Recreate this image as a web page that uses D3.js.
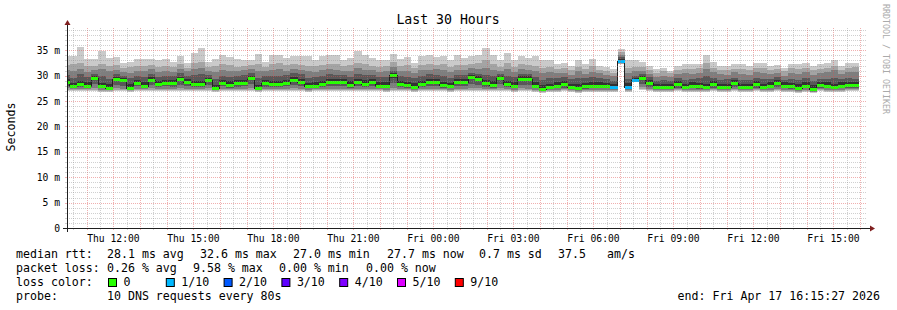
<!DOCTYPE html>
<html>
<head>
<meta charset="utf-8">
<script src="https://cdn.jsdelivr.net/npm/d3@7"></script>
<style>
  body { margin: 0; background: #fff; }
  svg text { font-family: "DejaVu Sans Mono", monospace; fill: #000; }
</style>
</head>
<body>
<svg id="chart" width="897" height="310"></svg>
<script>
// time window of the graph and the 16 minute consolidation bins
var startTime = new Date(Date.UTC(2026, 3, 16, 10, 15, 27));
var endTime = new Date(Date.UTC(2026, 3, 17, 16, 15, 27));
var firstBin = new Date(Date.UTC(2026, 3, 16, 10, 6, 7));
var binSeconds = 960;

// median rtt per bin (ms)
var median = [
  28.8, 27.9, 28.4, 28.0, 29.6, 27.9, 27.5, 29.4, 29.2, 27.5, 28.6, 28.0, 29.2, 28.4,
  28.6, 28.6, 29.3, 28.8, 28.3, 28.4, 29.2, 27.5, 28.5, 28.2, 28.5, 28.6, 29.6, 27.5,
  28.6, 28.3, 28.3, 28.6, 29.2, 28.8, 27.9, 28.0, 28.3, 28.8, 28.8, 28.8, 28.2, 28.8,
  28.4, 28.8, 28.0, 28.0, 30.1, 28.3, 28.1, 27.8, 28.3, 28.8, 28.8, 28.1, 27.9, 28.7,
  28.7, 29.7, 29.4, 28.5, 28.2, 29.5, 28.3, 28.0, 29.4, 29.4, 28.0, 27.3, 27.7, 28.0,
  28.3, 27.7, 27.6, 27.9, 28.0, 28.0, 28.0, 27.7, 32.9, 27.7, 29.2, 29.6, 28.6, 27.7,
  27.7, 27.7, 28.3, 27.7, 28.0, 27.9, 27.7, 28.3, 27.7, 27.7, 28.5, 27.7, 27.7, 28.4,
  27.7, 28.0, 28.5, 28.0, 27.9, 27.6, 28.0, 27.3, 28.1, 28.0, 27.7, 28.0, 28.1, 28.1
];
// lost pings per bin (out of 10)
var loss = [
  0, 0, 0, 0, 0, 0, 0, 0, 0, 0, 0, 0, 0, 0,
  0, 0, 0, 0, 0, 0, 0, 0, 0, 0, 0, 0, 0, 0,
  0, 0, 0, 0, 0, 0, 0, 0, 0, 0, 0, 0, 0, 0,
  0, 0, 0, 0, 0, 0, 0, 0, 0, 0, 0, 0, 0, 0,
  0, 0, 0, 0, 0, 0, 0, 0, 0, 0, 0, 0, 0, 0,
  0, 0, 0, 0, 0, 0, 0, 1, 1, 1, 1, 0, 0, 0,
  0, 0, 0, 0, 0, 0, 0, 0, 0, 0, 0, 0, 0, 0,
  0, 0, 0, 0, 0, 0, 0, 0, 0, 0, 0, 0, 0, 0
];
// sorted pings per bin (ms), slowest first
var ping10 = [
  33.8, 33.8, 35.6, 33.3, 33.3, 34.8, 33.5, 33.7, 32.5, 32.8, 33.3, 33.3, 33.2, 33.1,
  33.2, 32.8, 33.8, 32.6, 34.5, 35.5, 32.8, 33.3, 34.1, 33.6, 33.2, 33.0, 33.0, 34.3,
  32.8, 34.1, 34.1, 33.5, 33.9, 33.8, 33.9, 33.1, 33.8, 34.1, 34.0, 33.1, 33.5, 34.8,
  34.0, 33.5, 33.1, 33.1, 34.3, 33.3, 33.7, 32.6, 33.8, 34.1, 33.7, 33.9, 33.1, 34.0,
  33.5, 33.8, 34.1, 35.4, 34.1, 33.0, 34.5, 33.1, 33.8, 33.5, 33.8, 33.0, 33.1, 32.3,
  32.6, 32.0, 33.0, 32.4, 33.2, 32.0, 31.7, 31.4, 35.3, 33.1, 33.1, 32.7, 32.0, 31.3,
  31.6, 31.0, 32.0, 32.3, 32.3, 32.3, 34.1, 32.7, 32.0, 32.0, 32.3, 32.3, 32.0, 32.6,
  32.6, 32.0, 32.2, 31.6, 32.3, 32.3, 32.6, 32.0, 32.3, 32.6, 33.1, 32.0, 32.6, 32.6
];
var ping9 = [
  32.1, 32.3, 32.6, 31.9, 32.0, 32.4, 32.0, 32.2, 31.6, 31.8, 32.0, 31.9, 32.2, 31.7,
  31.9, 31.7, 32.3, 31.6, 32.5, 32.8, 31.8, 32.0, 32.4, 32.1, 31.8, 31.9, 32.2, 32.3,
  31.7, 32.4, 32.5, 32.1, 32.3, 32.2, 32.0, 31.9, 32.2, 32.4, 32.3, 31.9, 32.1, 32.6,
  32.3, 32.0, 31.8, 31.9, 32.8, 31.9, 32.2, 31.5, 32.1, 32.4, 32.2, 32.3, 31.8, 32.2,
  32.1, 32.4, 32.5, 33.0, 32.3, 31.8, 32.6, 31.7, 32.3, 32.1, 32.0, 31.6, 31.7, 31.3,
  31.5, 31.1, 31.8, 31.3, 31.9, 31.2, 31.0, 30.6, 34.6, 31.6, 31.8, 31.7, 31.2, 30.6,
  30.9, 30.5, 31.2, 31.4, 31.3, 31.5, 32.6, 31.6, 31.2, 31.1, 31.4, 31.3, 31.1, 31.5,
  31.6, 31.2, 31.4, 30.9, 31.5, 31.3, 31.6, 31.1, 31.4, 31.6, 32.0, 31.2, 31.6, 31.7
];
var ping8 = [
  31.2, 31.0, 31.4, 30.8, 31.1, 31.3, 30.9, 31.2, 30.8, 30.6, 31.0, 30.9, 31.3, 30.8,
  31.0, 30.8, 31.4, 30.9, 31.3, 31.5, 31.0, 30.8, 31.2, 31.0, 30.9, 31.1, 31.3, 30.9,
  30.9, 31.2, 31.3, 31.0, 31.4, 31.2, 30.9, 30.8, 31.1, 31.3, 31.2, 30.9, 31.0, 31.6,
  31.2, 31.1, 30.8, 30.9, 31.8, 30.9, 31.0, 30.6, 31.1, 31.2, 31.3, 31.1, 30.8, 31.2,
  31.1, 31.5, 31.4, 31.6, 31.2, 31.0, 31.4, 30.8, 31.3, 31.2, 30.9, 30.6, 30.8, 30.5,
  30.6, 30.2, 30.9, 30.4, 30.8, 30.5, 30.2, 29.9, 34.0, 30.6, 30.9, 31.0, 30.4, 29.8,
  30.0, 29.8, 30.4, 30.6, 30.3, 30.6, 31.4, 30.8, 30.3, 30.2, 30.7, 30.4, 30.2, 30.7,
  30.6, 30.4, 30.6, 30.0, 30.5, 30.4, 30.8, 30.2, 30.6, 30.7, 31.1, 30.3, 30.8, 30.8
];
var ping7 = [
  30.2, 29.6, 30.3, 29.7, 30.4, 29.9, 29.4, 30.3, 30.0, 29.5, 30.0, 29.7, 30.4, 29.8,
  30.0, 29.9, 30.5, 30.0, 30.1, 30.3, 30.2, 29.4, 30.0, 29.8, 30.0, 30.1, 30.6, 29.5,
  30.0, 30.0, 29.9, 30.1, 30.5, 30.3, 29.6, 29.7, 30.0, 30.3, 30.2, 30.1, 29.8, 30.4,
  30.1, 30.2, 29.7, 29.8, 31.0, 29.9, 29.8, 29.5, 30.0, 30.3, 30.2, 29.9, 29.6, 30.1,
  30.2, 30.6, 30.4, 30.2, 29.9, 30.4, 30.0, 29.7, 30.4, 30.3, 29.8, 29.2, 29.5, 29.6,
  29.8, 29.3, 29.5, 29.5, 29.8, 29.6, 29.4, 29.0, 33.6, 29.4, 30.0, 30.4, 29.7, 29.0,
  29.1, 29.0, 29.5, 29.2, 29.4, 29.5, 29.9, 29.6, 29.2, 29.3, 29.6, 29.2, 29.1, 29.6,
  29.3, 29.4, 29.7, 29.2, 29.3, 29.1, 29.5, 28.9, 29.4, 29.3, 29.5, 29.4, 29.5, 29.4
];
var ping6 = [
  29.3, 28.6, 29.0, 28.7, 30.0, 28.6, 28.3, 29.8, 29.6, 28.3, 29.2, 28.7, 29.7, 29.0,
  29.2, 29.1, 29.8, 29.3, 29.0, 29.0, 29.6, 28.2, 29.1, 28.9, 29.1, 29.2, 30.0, 28.2,
  29.2, 29.0, 29.0, 29.2, 29.7, 29.4, 28.6, 28.7, 29.0, 29.4, 29.3, 29.4, 28.9, 29.4,
  29.1, 29.4, 28.7, 28.7, 30.5, 29.0, 28.8, 28.5, 29.0, 29.4, 29.4, 28.8, 28.6, 29.3,
  29.3, 30.1, 29.9, 29.2, 28.9, 29.9, 29.0, 28.7, 29.9, 29.9, 28.7, 28.1, 28.4, 28.7,
  29.0, 28.4, 28.3, 28.6, 28.7, 28.7, 28.6, 28.4, 33.3, 28.5, 29.6, 30.0, 29.2, 28.4,
  28.4, 28.4, 29.0, 28.4, 28.7, 28.6, 28.4, 29.0, 28.4, 28.4, 29.1, 28.4, 28.4, 29.0,
  28.4, 28.7, 29.1, 28.7, 28.6, 28.3, 28.7, 28.1, 28.8, 28.7, 28.4, 28.7, 28.8, 28.8
];
var ping5 = [
  28.5, 27.7, 28.1, 27.8, 29.1, 27.7, 27.4, 29.0, 28.8, 27.4, 28.3, 27.8, 28.8, 28.1,
  28.3, 28.3, 29.0, 28.4, 28.0, 28.1, 28.8, 27.4, 28.2, 27.9, 28.2, 28.3, 29.1, 27.4,
  28.3, 28.0, 28.0, 28.3, 28.8, 28.4, 27.7, 27.8, 28.0, 28.5, 28.5, 28.5, 27.9, 28.5,
  28.1, 28.5, 27.8, 27.8, 29.6, 28.0, 27.9, 27.6, 28.0, 28.5, 28.5, 27.9, 27.7, 28.4,
  28.4, 29.3, 29.0, 28.2, 27.9, 29.1, 28.0, 27.8, 29.0, 29.0, 27.8, 27.1, 27.5, 27.8,
  28.0, 27.5, 27.4, 27.7, 27.8, 27.8, 27.8, 27.5, 32.7, 27.5, 29.0, 29.2, 28.3, 27.5,
  27.5, 27.5, 28.0, 27.5, 27.8, 27.7, 27.5, 28.0, 27.5, 27.5, 28.2, 27.5, 27.5, 28.1,
  27.5, 27.8, 28.2, 27.8, 27.7, 27.4, 27.8, 27.1, 27.9, 27.8, 27.5, 27.8, 27.9, 27.9
];
var ping4 = [
  28.0, 27.5, 27.8, 27.6, 28.4, 27.5, 27.3, 28.2, 28.0, 27.3, 27.9, 27.6, 28.1, 27.8,
  27.9, 27.8, 28.2, 27.9, 27.7, 27.8, 28.1, 27.3, 27.9, 27.6, 27.8, 27.9, 28.3, 27.3,
  27.8, 27.7, 27.7, 27.9, 28.1, 27.9, 27.5, 27.6, 27.7, 28.0, 27.9, 28.0, 27.6, 28.0,
  27.7, 28.0, 27.6, 27.5, 28.6, 27.7, 27.6, 27.4, 27.7, 28.0, 28.0, 27.6, 27.5, 27.9,
  27.9, 28.4, 28.2, 27.8, 27.6, 28.3, 27.7, 27.5, 28.2, 28.1, 27.5, 27.0, 27.3, 27.5,
  27.6, 27.3, 27.2, 27.4, 27.5, 27.5, 27.5, 27.3, 32.6, 27.3, 29.0, 28.4, 27.8, 27.3,
  27.3, 27.3, 27.6, 27.3, 27.5, 27.4, 27.3, 27.6, 27.3, 27.3, 27.7, 27.3, 27.3, 27.6,
  27.3, 27.5, 27.7, 27.5, 27.4, 27.2, 27.5, 26.9, 27.6, 27.5, 27.3, 27.5, 27.6, 27.6
];
var ping3 = [
  27.5, 27.3, 27.4, 27.3, 27.6, 27.2, 27.1, 27.5, 27.4, 27.1, 27.4, 27.3, 27.5, 27.3,
  27.4, 27.3, 27.5, 27.4, 27.3, 27.3, 27.5, 27.1, 27.4, 27.3, 27.4, 27.3, 27.6, 27.1,
  27.4, 27.3, 27.3, 27.4, 27.5, 27.4, 27.2, 27.3, 27.3, 27.4, 27.4, 27.4, 27.3, 27.4,
  27.3, 27.4, 27.3, 27.2, 27.6, 27.3, 27.3, 27.2, 27.3, 27.4, 27.4, 27.3, 27.2, 27.4,
  27.4, 27.6, 27.5, 27.3, 27.3, 27.5, 27.3, 27.2, 27.5, 27.4, 27.2, 26.9, 27.1, 27.2,
  27.3, 27.1, 27.0, 27.2, 27.2, 27.2, 27.2, 27.1, 32.5, 27.1, 29.0, 27.8, 27.4, 27.1,
  27.1, 27.1, 27.3, 27.1, 27.2, 27.2, 27.1, 27.3, 27.1, 27.1, 27.3, 27.1, 27.1, 27.3,
  27.1, 27.2, 27.3, 27.2, 27.2, 27.0, 27.2, 26.8, 27.3, 27.2, 27.1, 27.2, 27.3, 27.3
];
var ping2 = [
  27.2, 27.1, 27.1, 27.1, 27.2, 27.0, 26.9, 27.2, 27.1, 26.9, 27.1, 27.1, 27.2, 27.1,
  27.1, 27.1, 27.2, 27.1, 27.1, 27.1, 27.2, 26.9, 27.1, 27.1, 27.1, 27.1, 27.2, 26.9,
  27.1, 27.1, 27.1, 27.1, 27.2, 27.1, 27.0, 27.1, 27.1, 27.1, 27.1, 27.1, 27.1, 27.1,
  27.1, 27.1, 27.1, 27.0, 27.2, 27.1, 27.1, 27.0, 27.1, 27.1, 27.1, 27.1, 27.0, 27.1,
  27.1, 27.2, 27.2, 27.1, 27.1, 27.2, 27.1, 27.0, 27.2, 27.1, 27.0, 26.8, 26.9, 27.0,
  27.1, 26.9, 26.8, 27.0, 27.0, 27.0, 27.0, 26.9, 32.4, 26.9, 29.0, 27.4, 27.1, 26.9,
  26.9, 26.9, 27.1, 26.9, 27.0, 27.0, 26.9, 27.1, 26.9, 26.9, 27.1, 26.9, 26.9, 27.1,
  26.9, 27.0, 27.1, 27.0, 27.0, 26.8, 27.0, 26.7, 27.1, 27.0, 26.9, 27.0, 27.1, 27.1
];
var ping1 = [
  27.0, 26.9, 26.9, 26.9, 27.0, 26.8, 26.7, 27.0, 26.9, 26.7, 26.9, 26.9, 27.0, 26.9,
  26.9, 26.9, 27.0, 26.9, 26.9, 26.9, 27.0, 26.7, 26.9, 26.9, 26.9, 26.9, 27.0, 26.7,
  26.9, 26.9, 26.9, 26.9, 27.0, 26.9, 26.8, 26.9, 26.9, 26.9, 26.9, 26.9, 26.9, 26.9,
  26.9, 26.9, 26.9, 26.8, 27.0, 26.9, 26.9, 26.8, 26.9, 26.9, 26.9, 26.9, 26.8, 26.9,
  26.9, 27.0, 27.0, 26.9, 26.9, 27.0, 26.9, 26.8, 27.0, 26.9, 26.8, 26.6, 26.7, 26.8,
  26.9, 26.7, 26.6, 26.8, 26.8, 26.8, 26.8, 26.7, 32.3, 26.7, 29.0, 27.2, 26.9, 26.7,
  26.7, 26.7, 26.9, 26.7, 26.8, 26.8, 26.7, 26.9, 26.7, 26.7, 26.9, 26.7, 26.7, 26.9,
  26.7, 26.8, 26.9, 26.8, 26.8, 26.6, 26.8, 26.5, 26.9, 26.8, 26.7, 26.8, 26.9, 26.9
];

var yTicks = [0, 5, 10, 15, 20, 25, 30, 35];
var lossLabels = ["0", "1/10", "2/10", "3/10", "4/10", "5/10", "9/10"];
var lossColors = ["#26ff00", "#00b8ff", "#0059ff", "#5e00ff", "#7e00ff", "#dd00ff", "#ff0000"];
var lossSteps = [0, 1, 2, 3, 4, 5, 9];
var smokeColors = ["#cacaca", "#a4a4a4", "#7e7e7e", "#585858", "#323232"];

var rttStats = ["median rtt:", "28.1 ms avg", "32.6 ms max", "27.0 ms min", "27.7 ms now", "0.7 ms sd", "37.5", "am/s"];
var lossStats = ["packet loss:", "0.26 % avg", "9.58 % max", "0.00 % min", "0.00 % now"];
var probeText = ["probe:", "10 DNS requests every 80s"];
var endText = "end: Fri Apr 17 16:15:27 2026";

var svg = d3.select("#chart");
var plotL = 67, plotR = 867, plotB = 228, plotT = 28;

var x = d3.scaleUtc().domain([startTime, endTime]).range([plotL, plotR]);
var y = d3.scaleLinear().domain([0, 39.4]).range([plotB, plotT]);

var pings = [ping1, ping2, ping3, ping4, ping5, ping6, ping7, ping8, ping9, ping10];
var rows = median.map(function (m, i) {
  return {
    t: new Date(firstBin.getTime() + i * binSeconds * 1000),
    med: m,
    loss: loss[i],
    p: pings.map(function (a) { return a[i]; })
  };
});
var lastRow = rows[rows.length - 1];
var stepRows = rows.concat([{
  t: new Date(lastRow.t.getTime() + binSeconds * 1000),
  med: lastRow.med, loss: lastRow.loss, p: lastRow.p
}]);

svg.append("clipPath").attr("id", "plotclip")
  .append("rect").attr("x", plotL).attr("y", plotT)
  .attr("width", plotR - plotL).attr("height", plotB - plotT);

var plot = svg.append("g").attr("clip-path", "url(#plotclip)");

// smoke: pairs (1,10) (2,9) ... (5,6), darker towards the middle
smokeColors.forEach(function (c, k) {
  var area = d3.area()
    .curve(d3.curveStepAfter)
    .x(function (d) { return x(d.t); })
    .y0(function (d) { return y(d.p[k]); })
    .y1(function (d) { return y(d.p[9 - k]); });
  plot.append("path").datum(stepRows)
    .attr("d", area)
    .attr("fill", c)
    .attr("shape-rendering", "crispEdges");
});

// median step line
plot.append("path").datum(stepRows)
  .attr("d", d3.line().curve(d3.curveStepAfter)
    .x(function (d) { return x(d.t); })
    .y(function (d) { return Math.round(y(d.med)) + 0.5; }))
  .attr("fill", "none")
  .attr("stroke", "#202020")
  .attr("stroke-width", 1)
  .attr("shape-rendering", "crispEdges");

function lossColor(l) {
  var idx = 0;
  lossSteps.forEach(function (s, i) { if (l >= s) idx = i; });
  return lossColors[idx];
}

plot.selectAll("rect.med").data(rows).enter().append("rect")
  .attr("class", "med")
  .attr("x", function (d) { return x(d.t); })
  .attr("width", x(new Date(firstBin.getTime() + binSeconds * 1000)) - x(firstBin))
  .attr("y", function (d) { return Math.round(y(d.med)) - 1; })
  .attr("height", 3)
  .attr("fill", function (d) { return lossColor(d.loss); })
  .attr("shape-rendering", "crispEdges");

// grid (drawn over the graph like rrdtool)
var grid = svg.append("g").attr("shape-rendering", "crispEdges");
var minorCol = "rgba(143,143,143,0.42)", majorCol = "rgba(222,79,79,0.45)";

d3.utcMinute.every(30).range(startTime, endTime).forEach(function (t) {
  var major = t.getUTCMinutes() === 0;
  var px = Math.round(x(t)) + 0.5;
  grid.append("line").attr("x1", px).attr("x2", px).attr("y1", plotT).attr("y2", plotB)
    .attr("stroke", major ? majorCol : minorCol).attr("stroke-dasharray", "1,1");
  grid.append("line").attr("x1", px).attr("x2", px).attr("y1", plotB).attr("y2", plotB + 2)
    .attr("stroke", major ? majorCol : minorCol);
});

d3.range(1, 40).forEach(function (v) {
  var major = v % 5 === 0;
  var py = Math.round(y(v)) + 0.5;
  grid.append("line").attr("x1", plotL).attr("x2", plotR).attr("y1", py).attr("y2", py)
    .attr("stroke", major ? majorCol : minorCol).attr("stroke-dasharray", "1,1");
  grid.append("line").attr("x1", plotL - 2).attr("x2", plotL).attr("y1", py).attr("y2", py)
    .attr("stroke", major ? majorCol : minorCol);
});

// axes
var axisCol = "#1f1f1f", arrowCol = "#801f1f";
grid.append("line").attr("x1", plotL - 4).attr("x2", plotR + 4)
  .attr("y1", plotB + 0.5).attr("y2", plotB + 0.5).attr("stroke", axisCol);
grid.append("line").attr("x1", plotL + 0.5).attr("x2", plotL + 0.5)
  .attr("y1", plotB + 4).attr("y2", plotT - 4).attr("stroke", axisCol);
svg.append("path")
  .attr("d", "M" + (plotR + 3) + "," + (plotB - 2.5) + "L" + (plotR + 8) + "," + (plotB + 0.5) +
    "L" + (plotR + 3) + "," + (plotB + 3.5) + "Z")
  .attr("fill", arrowCol);
svg.append("path")
  .attr("d", "M" + (plotL - 2.5) + "," + (plotT - 3) + "L" + (plotL + 0.5) + "," + (plotT - 8) +
    "L" + (plotL + 3.5) + "," + (plotT - 3) + "Z")
  .attr("fill", arrowCol);

// tick labels
var fmt = d3.utcFormat("%a %H:%M");
svg.selectAll("text.xl").data(d3.utcHour.every(3).range(startTime, endTime)).enter()
  .append("text").attr("class", "xl")
  .attr("x", function (d) { return x(d); })
  .attr("y", 242)
  .attr("text-anchor", "middle")
  .style("font-size", "9.7px")
  .text(function (d) { return fmt(d); });

svg.selectAll("text.yl").data(yTicks).enter()
  .append("text").attr("class", "yl")
  .attr("x", 60)
  .attr("y", function (d) { return y(d) + 3.5; })
  .attr("text-anchor", "end")
  .style("font-size", "9.7px")
  .text(function (d) { return d === 0 ? "0" : d + " m"; });

// title and axis label
svg.append("text").attr("x", 448).attr("y", 24).attr("text-anchor", "middle")
  .style("font-size", "13.2px").text("Last 30 Hours");
svg.append("text").attr("transform", "translate(15,127) rotate(-90)")
  .attr("text-anchor", "middle").style("font-size", "11.6px").text("Seconds");
svg.append("text").attr("transform", "translate(883,4) rotate(90)")
  .style("font-size", "8.3px").style("fill", "#aaaaaa").text("RRDTOOL / TOBI OETIKER");

// legend
var legend = svg.append("g").style("font-size", "11.6px");
var rttX = [16, 107, 200, 293, 387, 479, 558, 607];
rttStats.forEach(function (s, i) {
  legend.append("text").attr("x", rttX[i]).attr("y", 258).text(s);
});
var lossX = [16, 107, 193, 279, 366];
lossStats.forEach(function (s, i) {
  legend.append("text").attr("x", lossX[i]).attr("y", 272).text(s);
});
legend.append("text").attr("x", 16).attr("y", 286).text("loss color:");
lossLabels.forEach(function (s, i) {
  var bx = 108.5 + i * 57.8;
  legend.append("rect").attr("x", bx).attr("y", 278.5).attr("width", 8).attr("height", 8)
    .attr("fill", lossColors[i]).attr("stroke", "#000").attr("stroke-width", 1);
  legend.append("text").attr("x", bx + 15).attr("y", 286).text(s);
});
legend.append("text").attr("x", 16).attr("y", 300).text(probeText[0]);
legend.append("text").attr("x", 107).attr("y", 300).text(probeText[1]);
legend.append("text").attr("x", 880).attr("y", 300).attr("text-anchor", "end").text(endText);
</script>
</body>
</html>
